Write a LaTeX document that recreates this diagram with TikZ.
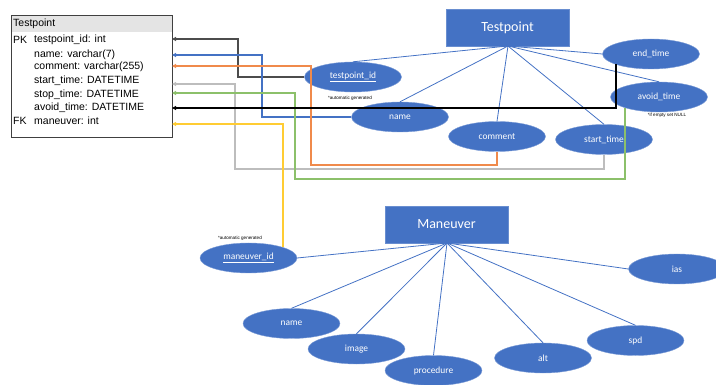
\documentclass[tikz,border=0pt]{standalone}
\usepackage{fontspec}
\setmainfont{Liberation Sans}
\newfontfamily\carlitofont{Carlito}
\usetikzlibrary{shapes.geometric,arrows.meta}
\definecolor{obl}{HTML}{4472C4}
\definecolor{oor}{HTML}{F08A4B}
\definecolor{ogr}{HTML}{BDBDBD}
\definecolor{ogn}{HTML}{8CC06A}
\definecolor{oyl}{HTML}{FFCC33}
\definecolor{hdr}{HTML}{E4E4E4}
\tikzset{
  entity/.style={draw=obl!80!white, fill=obl, minimum width=123pt, minimum height=37pt, inner sep=0pt, text=white, font=\carlitofont\fontsize{14}{16}\selectfont},
  attr/.style={ellipse, draw=obl!70!white, fill=obl, minimum width=97pt, minimum height=30pt, inner sep=0pt, text=white, font=\carlitofont\fontsize{9.4}{10}\selectfont},
  rel/.style={draw=obl, line width=0.8pt},
  fld/.style={anchor=west, inner sep=0pt, font=\fontsize{10.5}{12}\selectfont},
  note/.style={inner sep=0pt, font=\fontsize{4.6}{5}\selectfont},
  link/.style={line width=1.15pt, -{Triangle[length=4pt,width=4pt]}},
}
\begin{document}
\begin{tikzpicture}[x=1pt,y=-1pt]
\useasboundingbox (0,0) rectangle (716,385);
\clip (0,0) rectangle (716,385);

% ---- table ----
\fill[hdr] (11,15) rectangle (172,32);
\draw[line width=0.9pt, draw=black!75] (11,15) rectangle (172,137);
\node[fld] (th) at (13,24) {Testpoint};
\node[fld] (pk) at (13,40) {PK};
\node[fld] (fk) at (13,121) {FK};
\node[fld] (f1) at (34,40) {testpoint\_id: int};
\node[fld] (f2) at (34,55) {name: varchar(7)};
\node[fld] (f3) at (34,67) {comment: varchar(255)};
\node[fld] (f4) at (34,81) {start\_time: DATETIME};
\node[fld] (f5) at (34,95) {stop\_time: DATETIME};
\node[fld] (f6) at (34,108) {avoid\_time: DATETIME};
\node[fld] (f7) at (34,121) {maneuver: int};
\coordinate (p1) at (172,39);
\coordinate (p2) at (172,55);
\coordinate (p3) at (172,66);
\coordinate (p4) at (172,84);
\coordinate (p5) at (172,93);
\coordinate (p6) at (172,108);
\coordinate (p7) at (172,124);

% ---- Testpoint entity ----
\node[entity] (tp) at (507.5,27.5) {Testpoint};
\coordinate (ta) at (508,46);
\node[attr] (tid) at (353,77) {\underline{testpoint\_id}};
\node[attr] (tname) at (400,117) {name};
\node[attr] (tcom) at (497,136.5) {comment};
\node[attr] (tst) at (604,139.5) {start\_time};
\node[attr] (tend) at (651,54) {end\_time};
\node[attr] (tav) at (659,97) {avoid\_time};
\node[note] (n1) at (350,98) {*automatic generated};
\node[note] (n2) at (667,115.5) {*if empty set NULL};
\coordinate (tavb) at (625,108);
\coordinate (tendb) at (616,64.5);

\draw[rel] (ta) -- (tid.north);
\draw[rel] (ta) -- (tname.north);
\draw[rel] (ta) -- (tcom.north);
\draw[rel] (ta) -- (tst.north);
\draw[rel] (ta) -- (tend.west);
\draw[rel] (ta) -- (tav.north);

% ---- Maneuver entity ----
\node[entity] (mv) at (446.5,224.5) {Maneuver};
\coordinate (ma) at (447,243);
\node[attr] (mid) at (248.5,258) {\underline{maneuver\_id}};
\node[attr] (mname) at (291.5,323.5) {name};
\node[attr] (mimg) at (356.5,349) {image};
\node[attr] (mproc) at (433.5,370.5) {procedure};
\node[attr] (malt) at (543,358) {alt};
\node[attr] (mspd) at (635.5,340.5) {spd};
\node[attr] (mias) at (677,269) {ias};
\node[note] (n3) at (240,238) {*automatic generated};
\coordinate (midt) at (283,247.5);

\draw[rel] (ma) -- (mid.east);
\draw[rel] (ma) -- (mname.north);
\draw[rel] (ma) -- (mimg.north);
\draw[rel] (ma) -- (mproc.north);
\draw[rel] (ma) -- (malt.north);
\draw[rel] (ma) -- (mspd.north);
\draw[rel] (ma) -- (mias.west);

% ---- key links from attributes to table columns ----
\draw[link, draw=black!70] (tid.west) -- (238,77) |- (p1);
\draw[link, draw=obl] (tname.west) -- (262,117) |- (p2);
\draw[link, draw=oor] (tcom.south) |- (311,165) |- (p3);
\draw[link, draw=ogr] (tst.south) |- (235,169) |- (p4);
\draw[link, draw=ogn] (tavb) |- (295,179) |- (p5);
\draw[link, draw=black] (tendb) |- (p6);
\draw[link, draw=oyl] (midt) |- (p7);
\end{tikzpicture}
\end{document}
